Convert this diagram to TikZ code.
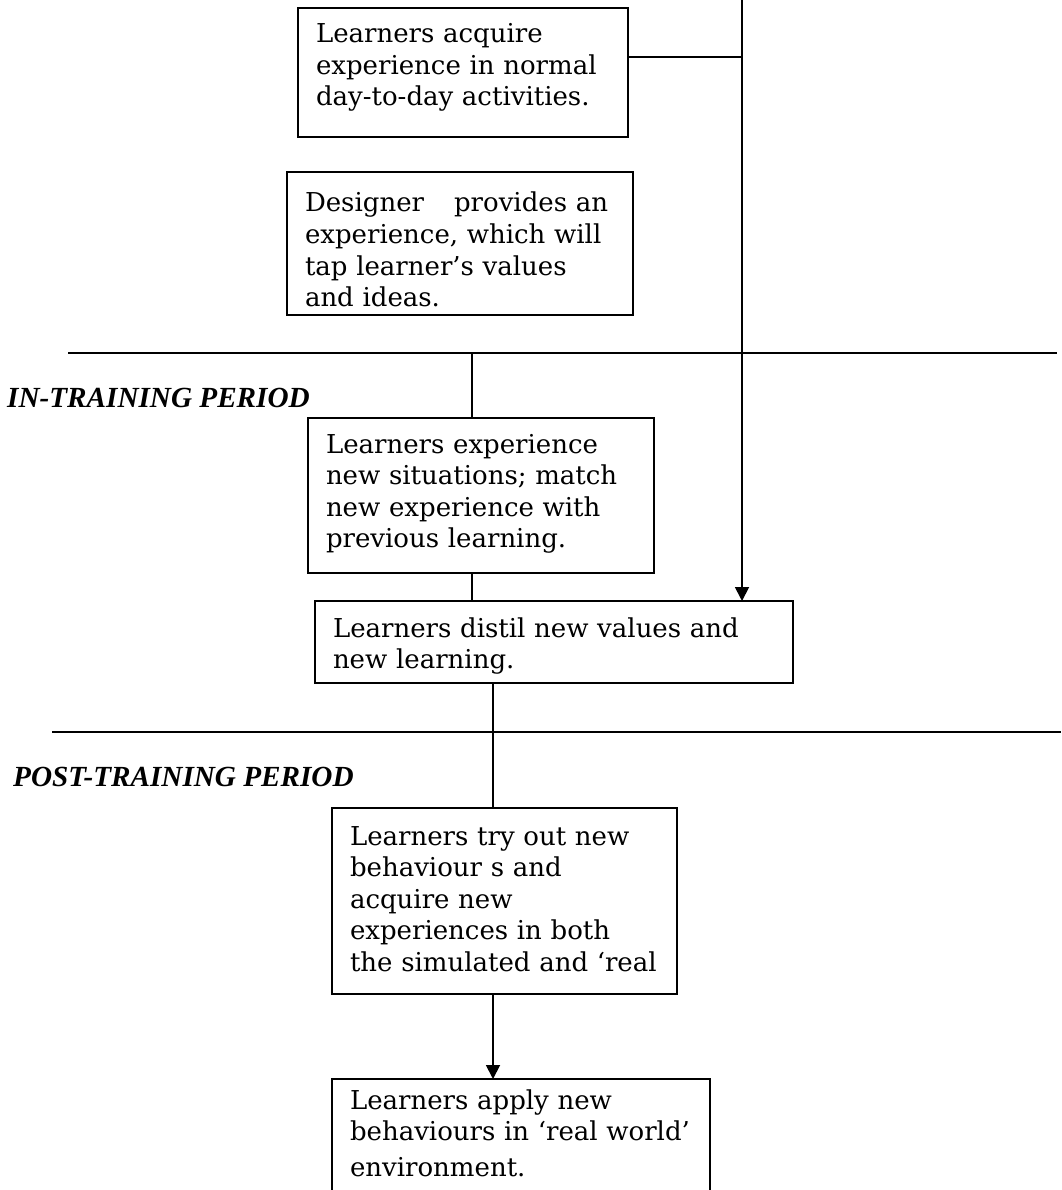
\documentclass[tikz,border=0pt]{standalone}
\usepackage{fontspec}
\usetikzlibrary{arrows.meta}
\newfontfamily\bodyfont{DejaVu Serif}
\newfontfamily\headfont{Liberation Serif}
\newcommand\boxfont{\bodyfont\fontsize{26}{31.5}\selectfont}
\newcommand\periodfont{\headfont\bfseries\itshape\fontsize{29.2}{32}\selectfont}
\begin{document}
\begin{tikzpicture}[x=1pt,y=-1pt,
  rule/.style={line width=1.8pt},
  divider/.style={line width=2pt},
  box/.style={draw, line width=1.8pt, anchor=north west, inner xsep=18pt,
    inner ysep=0pt, outer sep=0pt, align=left, font=\boxfont},
  period/.style={anchor=base west, inner sep=0pt, font=\periodfont},
  tip/.style={-{Triangle[width=14pt,length=14pt]}}]
\clip (0,0) rectangle (1061,1190);

% pre-training boxes
\node[box, text width=294pt, text height=35pt, text depth=94pt] (acquire) at (298,8)
  {\mbox{Learners acquire}\\ \mbox{experience in normal}\\ \mbox{day-to-day activities.}};
\node[box, text width=310pt, text height=40pt, text depth=103pt] (designer) at (287,172)
  {\mbox{Designer\hspace*{30pt}provides an}\\ \mbox{experience, which will}\\ \mbox{tap learner’s values}\\ \mbox{and ideas.}};

% in-training period
\node[period] (inlabel) at (7,407) {IN-TRAINING PERIOD};
\node[box, text width=310pt, text height=35pt, text depth=120pt] (situations) at (308,418)
  {\mbox{Learners experience}\\ \mbox{new situations; match}\\ \mbox{new experience with}\\ \mbox{previous learning.}};
\node[box, text width=442pt, text height=36pt, text depth=46pt] (distil) at (315,601)
  {\mbox{Learners distil new values and}\\ \mbox{new learning.}};

% post-training period
\node[period] (postlabel) at (13,786) {POST-TRAINING PERIOD};
\node[box, text width=309pt, text height=37pt, text depth=149pt] (tryout) at (332,808)
  {\mbox{Learners try out new}\\ \mbox{behaviour s and}\\ \mbox{acquire new}\\ \mbox{experiences in both}\\ \mbox{the simulated and ‘real}};
\node[box, text width=342pt, text height=30pt, text depth=150pt] (apply) at (332,1079)
  {\mbox{Learners apply new}\\ \mbox{behaviours in ‘real world’}\\[4pt] \mbox{environment.}};

% connector points
\coordinate (mainTop) at (742,0);
\coordinate (feed) at (742,57);
\coordinate (inW) at (68,353);
\coordinate (inE) at (1057,353);
\coordinate (inDrop) at (472,353);
\coordinate (postW) at (52,732);
\coordinate (postE) at (1061,732);
\coordinate (postDrop) at (493,732);

% period dividers
\draw[divider] (inW) -- (inE);
\draw[divider] (postW) -- (postE);

% connectors
\draw[rule, tip] (mainTop) -- (mainTop |- distil.north);
\draw[rule] (feed -| acquire.east) -- (feed);
\draw[rule] (inDrop) -- (inDrop |- situations.north);
\draw[rule] (inDrop |- situations.south) -- (inDrop |- distil.north);
\draw[rule] (postDrop |- distil.south) -- (postDrop |- tryout.north);
\draw[rule, tip] (postDrop |- tryout.south) -- (postDrop |- apply.north);
\end{tikzpicture}
\end{document}
